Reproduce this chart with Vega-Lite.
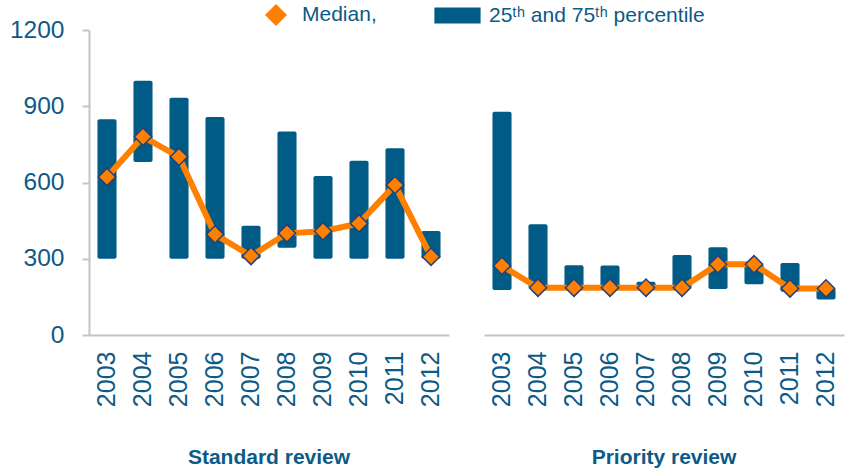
{
  "$schema": "https://vega.github.io/schema/vega-lite/v6.json",
  "padding": {"left": 9, "top": 4, "right": 5, "bottom": 5},
  "config": {
    "font": "Liberation Sans",
    "view": {"stroke": null},
    "axis": {"grid": false, "labelFont": "Liberation Sans", "labelColor": "#0B5A87", "domainColor": "#C4C4C4", "domainWidth": 2, "tickColor": "#C4C4C4", "tickWidth": 2}
  },
  "data": {
    "values": [
      {"group": "Standard review", "year": "2003", "p25": 300, "p75": 849, "median": 622},
      {"group": "Standard review", "year": "2004", "p25": 681, "p75": 1000, "median": 780},
      {"group": "Standard review", "year": "2005", "p25": 300, "p75": 933, "median": 701},
      {"group": "Standard review", "year": "2006", "p25": 300, "p75": 858, "median": 396},
      {"group": "Standard review", "year": "2007", "p25": 300, "p75": 430, "median": 311},
      {"group": "Standard review", "year": "2008", "p25": 343, "p75": 801, "median": 400},
      {"group": "Standard review", "year": "2009", "p25": 300, "p75": 626, "median": 408},
      {"group": "Standard review", "year": "2010", "p25": 300, "p75": 686, "median": 439},
      {"group": "Standard review", "year": "2011", "p25": 300, "p75": 735, "median": 590},
      {"group": "Standard review", "year": "2012", "p25": 300, "p75": 409, "median": 308},
      {"group": "Priority review", "year": "2003", "p25": 177, "p75": 878, "median": 272},
      {"group": "Priority review", "year": "2004", "p25": 186, "p75": 436, "median": 186},
      {"group": "Priority review", "year": "2005", "p25": 184, "p75": 274, "median": 186},
      {"group": "Priority review", "year": "2006", "p25": 184, "p75": 273, "median": 186},
      {"group": "Priority review", "year": "2007", "p25": 184, "p75": 210, "median": 186},
      {"group": "Priority review", "year": "2008", "p25": 184, "p75": 315, "median": 186},
      {"group": "Priority review", "year": "2009", "p25": 181, "p75": 345, "median": 278},
      {"group": "Priority review", "year": "2010", "p25": 200, "p75": 278, "median": 278},
      {"group": "Priority review", "year": "2011", "p25": 170, "p75": 283, "median": 183},
      {"group": "Priority review", "year": "2012", "p25": 140, "p75": 183, "median": 183}
    ]
  },
  "facet": {
    "column": {
      "field": "group",
      "type": "nominal",
      "sort": ["Standard review", "Priority review"],
      "header": {"title": null, "labelOrient": "bottom", "labelFont": "Liberation Sans", "labelFontSize": 21, "labelFontWeight": "bold", "labelColor": "#0B5A87", "labelPadding": 40}
    }
  },
  "spacing": 35,
  "spec": {
    "width": 360,
    "height": 305,
    "encoding": {
      "x": {
        "field": "year", "type": "ordinal",
        "scale": {"paddingInner": 0.47, "paddingOuter": 0.235},
        "axis": {"title": null, "labelAngle": -90, "labelFontSize": 25, "ticks": false, "labelPadding": 16}
      }
    },
    "layer": [
      {
        "mark": {"type": "bar", "cornerRadius": 2},
        "encoding": {
          "y": {"field": "p25", "type": "quantitative", "scale": {"domain": [0, 1200]},
            "axis": {"title": null, "values": [0, 300, 600, 900, 1200], "format": "d", "labelFontSize": 24.5, "tickSize": 7, "labelPadding": 18}},
          "y2": {"field": "p75"},
          "color": {"datum": "25ᵗʰ and 75ᵗʰ percentile", "type": "nominal",
            "scale": {"domain": ["Median,", "25ᵗʰ and 75ᵗʰ percentile"], "range": ["#FF8000", "#005B86"]},
            "legend": {
              "title": null, "orient": "none", "direction": "horizontal", "legendX": 176, "legendY": -26,
              "labelFont": "Liberation Sans", "labelFontSize": 21, "labelColor": "#0B5A87", "labelLimit": 0,
              "symbolSize": 484, "symbolStrokeWidth": 0, "labelOffset": 15, "columnPadding": 57,
              "encode": {"symbols": {"update": {"shape": {"signal": "datum.value == 'Median,' ? 'diamond' : 'M-2.6,-0.73H1.6V0.73H-2.6Z'"}}}}
            }}
        }
      },
      {
        "mark": {"type": "line", "color": "#FF8000", "strokeWidth": 6},
        "encoding": {"y": {"field": "median", "type": "quantitative"}}
      },
      {
        "mark": {"type": "point", "shape": "diamond", "filled": true, "size": 300, "stroke": "#23407A", "strokeWidth": 1.5, "opacity": 1},
        "encoding": {
          "y": {"field": "median", "type": "quantitative"},
          "color": {"datum": "Median,", "type": "nominal"}
        }
      }
    ]
  }
}
